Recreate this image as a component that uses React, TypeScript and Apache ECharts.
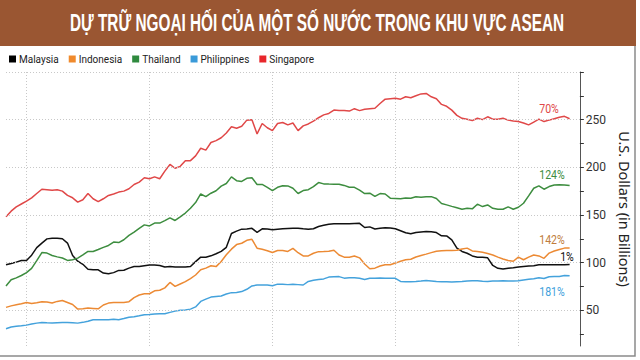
import React, { useEffect, useRef } from "react";
import * as echarts from "echarts";

// Monthly observations, Sep 2007 .. Nov 2016 (US$ billions)
const singapore = [
  148, 154, 158.5, 161.5,
  164.5, 168, 172.5, 177, 176.5, 176, 176.5, 175, 170.5, 168, 163.5, 166,
  172.5, 167, 164, 167, 170.5, 172, 174, 175, 177.5, 182, 184.5, 189,
  188, 190, 188, 196, 203, 199, 201, 207, 207, 212, 220, 218,
  226, 228, 231, 236, 242.5, 241, 243, 249.5, 250, 235, 246, 241.5,
  238.5, 246, 247, 244.5, 246.5, 238.5, 243.5, 245.5, 248.5, 252, 255, 256.5,
  260, 259.5, 259.5, 259, 261.5, 259.5, 261, 261.5, 262, 267, 271.5, 272,
  272.5, 271.5, 274, 273, 275, 277, 277.5, 274, 272, 266, 264, 260,
  254.5, 251.4, 250.5, 249, 251.5, 250, 253, 250.5, 250.5, 251.5, 249.5, 248.5,
  248, 246.5, 244.5, 247.5, 250.5, 248, 249.5, 251, 252.5, 253.5, 251,
];
const thailand = [
  75.5, 82, 84, 86.5,
  89.5, 94, 102, 110.5, 110, 107.5, 106, 104.8, 102.3, 103, 104.7, 108,
  111.7, 111.7, 113.8, 116, 118, 121.5, 121, 124, 128.5, 132, 136, 139.6,
  138.5, 141.5, 141.5, 144, 147, 144.2, 148, 152, 157, 163, 172, 169.3,
  172.8, 175.4, 180.3, 183, 190, 186, 185.2, 188.5, 189, 182, 182, 179,
  175.6, 179, 180.6, 180.5, 178, 172.5, 175.6, 176.5, 179.8, 184, 182.6, 182.4,
  182.3, 182.3, 181, 179, 179, 176, 172.5, 172.8, 169.5, 172.4, 172, 167.6,
  167.3, 167, 167.9, 167.6, 169.2, 168.6, 169, 169.2, 167.2, 162, 160.6, 159,
  157.5, 156, 157, 156.4, 161.3, 158.8, 160.5, 157, 156, 156, 158.5, 156,
  158.1, 162.3, 170, 178, 180.5, 177, 179.8, 181.5, 181.6, 181.4, 180.8,
];
const malaysia = [
  97.7, 99, 100.5, 102.2,
  102.2, 107.8, 115.7, 120.5, 124.9, 125.5, 125.6, 125, 120.5, 107.5, 101.5, 98.2,
  93, 92.5, 92.5, 89, 88.3, 89.5, 91.8, 92, 94.2, 95.9, 95.9, 96.8,
  97.5, 97.5, 97, 95.3, 95.9, 95.4, 95.3, 95.3, 95.9, 101, 105.7, 105.7,
  107.1, 109.3, 111.8, 116, 130.5, 133, 135.1, 135.2, 136, 131.8, 135.4, 135.2,
  134.5, 135, 135.5, 135.9, 136.1, 136.1, 135.5, 135.1, 135.5, 137.9, 139.2, 140.3,
  140.7, 140.7, 140.7, 140.7, 141, 141.2, 136.8, 137.5, 135.3, 136, 136.6, 136.4,
  135.5, 133.5, 131.4, 130.3, 131.5, 132.2, 132.6, 132.4, 131.5, 128.1, 128, 123.9,
  115.1, 111.7, 109.8, 107, 105.7, 105.7, 105, 97, 94, 93.3, 94.2, 94.7,
  95.4, 96, 96.4, 96.8, 97.7, 97.7, 97.7, 97.7, 97.7, 97.8, 98,
];
const indonesia = [
  53, 54.6, 55.8, 56.8,
  58.1, 57.1, 57.8, 58.9, 58.7, 57.6, 59.3, 60.3, 58.2, 56.1, 51.2, 51.5,
  52.3, 51.9, 51.5, 55.5, 57.5, 58.1, 58.2, 58.2, 59, 63.3, 66, 67.3,
  67.3, 70.4, 71, 73.5, 79.2, 75, 77.6, 80, 83.3, 87, 92.5, 94.2,
  96.7, 95.8, 101.2, 108.2, 114.1, 118.9, 120.3, 123.4, 124.4, 115.1, 114, 112.5,
  110.6, 112.7, 112.7, 111.7, 115, 110.4, 107, 107, 109.8, 111.5, 111.7, 112,
  113, 108, 105.7, 105.7, 107, 105, 98.5, 93.6, 94.2, 96.5, 97.7, 97.7,
  99.5, 101.5, 102.9, 103.5, 105.9, 107.5, 108.9, 110.5, 112, 112.5, 112.7, 112.7,
  113, 114.3, 115.2, 112.3, 111.7, 110.8, 109.5, 108, 105.8, 103.8, 102.2, 101.4,
  105.7, 103, 105.7, 108, 107, 104.5, 110, 112.2, 113.8, 115.2, 115.2,
];
const philippines = [
  30.6, 32.4, 33.3, 33.8,
  34.4, 35.5, 36.5, 37.2, 36.8, 36.6, 37, 37.2, 37.2, 36.9, 36.5, 37.3,
  38.4, 40, 40, 40, 40.1, 40.6, 40.1, 41.3, 42.6, 43.2, 44.2, 45.3,
  45.6, 46, 46.3, 46.3, 47.8, 49.1, 49.9, 50.4, 51.2, 53.5, 59.3, 61.7,
  63.8, 64.5, 65, 67, 68.5, 68.7, 69.6, 72, 75.5, 76.4, 76.6, 76.5,
  75.7, 77.4, 77.2, 76.9, 77.3, 76.9, 76.5, 80.2, 81.5, 82.2, 82.9, 84.8,
  85.2, 85.3, 83.7, 84.2, 84.1, 83.6, 82.2, 83.5, 83.7, 83.8, 83.7, 83.7,
  83.5, 80.3, 80, 80, 80.1, 80.6, 81.2, 80.7, 80.2, 80, 79.8, 79.6,
  79.9, 80.2, 80.8, 80.9, 80.9, 80.4, 80.3, 80.6, 80.8, 80.9, 80.7, 80.7,
  80.9, 81.8, 82.5, 83.1, 84.1, 83.4, 85.2, 85.5, 85.5, 86.4, 86.2,
];

const seriesNames = ["Malaysia", "Indonesia", "Thailand", "Philippines", "Singapore"];
const seriesColors = ["#111111", "#ec8a34", "#3d8d3f", "#44a2dc", "#e04848"];
const legendColors = ["#000000", "#f08a2c", "#2f8a3e", "#3a9ad9", "#e8262b"];
const changeLabels = ["1%", "142%", "124%", "181%", "70%"];
const changeLabelColors = ["#111111", "#c07c3c", "#3d8d3f", "#44a2dc", "#e04848"];

const yTickValues = [25, 50, 75, 100, 125, 150, 175, 200, 225, 250, 275, 300];
const yLabelValues = [50, 100, 150, 200, 250];
const yGridValues = [50, 100, 150, 200, 250, 300];

// Months Sep 2007 .. Jan 2017 (axis extends slightly past the last observation)
const startYear = 2007;
const startMonth = 9;
const monthCount = 113;
const months: string[] = [];
for (let k = 0; k < monthCount; k++) {
  const m0 = startMonth - 1 + k;
  const y = startYear + Math.floor(m0 / 12);
  const m = (m0 % 12) + 1;
  months.push(`${y}-${m < 10 ? "0" + m : m}`);
}

export default function App() {
  const ref = useRef<HTMLDivElement>(null);
  useEffect(() => {
    if (!ref.current) return;
    const chart = echarts.init(ref.current, undefined, { renderer: "svg" });
    const dataSets = [malaysia, indonesia, thailand, philippines, singapore];
    const labelPos = [
      [567, 257],
      [552, 240],
      [552, 175],
      [552, 292],
      [549, 109],
    ];
    chart.setOption({
      animation: false,
      backgroundColor: "#ffffff",
      grid: { left: 6, right: 56, top: 72, bottom: 14 },
      legend: {
        data: seriesNames.map((n, i) => ({ name: n, itemStyle: { color: legendColors[i] } })),
        left: 9,
        top: 54,
        padding: 0,
        icon: "rect",
        itemWidth: 7,
        itemHeight: 7,
        itemGap: 10,
        textStyle: { fontSize: 10, fontFamily: "Roboto", color: "#222", padding: [0, 0, 0, -2] },
      },
      xAxis: {
        type: "category",
        data: months,
        boundaryGap: false,
        axisLine: { show: false },
        axisTick: { show: false },
        axisLabel: { show: false },
        splitLine: {
          show: true,
          interval: (idx: number, val: string) => {
            const y = parseInt(val.slice(0, 4), 10);
            return val.slice(5) === "01" && y % 2 === 0;
          },
          lineStyle: { color: "#c8c8c8", type: [1, 2], width: 1 },
        },
      },
      yAxis: {
        type: "value",
        position: "right",
        min: 12.5,
        max: 300,
        axisLine: { show: true, lineStyle: { color: "#555", width: 1 } },
        axisTick: {
          show: true,
          inside: false,
          length: 4,
          customValues: yTickValues,
          lineStyle: { color: "#333" },
        },
        axisLabel: {
          customValues: yLabelValues,
          margin: 6,
          fontSize: 12,
          fontFamily: "Roboto",
          color: "#333",
        },
        splitLine: { show: false },
        name: "U.S. Dollars (in Billions)",
        nameLocation: "middle",
        nameRotate: -90,
        nameGap: 34,
        nameTextStyle: { fontSize: 14.5, fontFamily: "Noto Sans", color: "#222" },
      },
      series: [
        {
          name: "grid",
          type: "line",
          data: [],
          z: 1,
          silent: true,
          markLine: {
            silent: true,
            symbol: ["none", "none"],
            label: { show: false },
            lineStyle: { color: "#c8c8c8", type: [1, 2], width: 1 },
            data: yGridValues.map((v) => ({ yAxis: v })),
          },
        },
        ...seriesNames.map((n, i) => ({
          name: n,
          type: "line",
          data: dataSets[i],
          showSymbol: false,
          symbol: "none",
          z: 3,
          lineStyle: { color: seriesColors[i], width: 1.5 },
          itemStyle: { color: seriesColors[i] },
        })),
      ],
      graphic: [
        {
          type: "rect",
          shape: { x: 0, y: 0, width: 636, height: 46 },
          style: { fill: "#9a5632" },
        },
        {
          type: "text",
          x: 317,
          y: 23,
          scaleX: 0.64,
          style: {
            text: "DỰ TRỮ NGOẠI HỐI CỦA MỘT SỐ NƯỚC TRONG KHU VỰC ASEAN",
            fill: "#ffffff",
            font: 'bold 24px "Liberation Sans"',
            textAlign: "center",
            textVerticalAlign: "middle",
          },
        },
        {
          type: "polyline",
          shape: { points: [[635, 46], [635, 356], [0, 356]] },
          style: { stroke: "#8a8a8a", lineWidth: 1.5, fill: "none" },
        },
        ...changeLabels.map((t, i) => ({
          type: "text",
          x: labelPos[i][0],
          y: labelPos[i][1],
          scaleX: 0.88,
          style: {
            text: t,
            fill: changeLabelColors[i],
            font: '12px "Roboto"',
            textAlign: "center",
            textVerticalAlign: "middle",
          },
        })),
      ],
    });
    return () => chart.dispose();
  }, []);
  return (
    <div
      ref={ref}
      style={{ position: "fixed", left: 0, top: 0, width: 640, height: 360 }}
    />
  );
}
